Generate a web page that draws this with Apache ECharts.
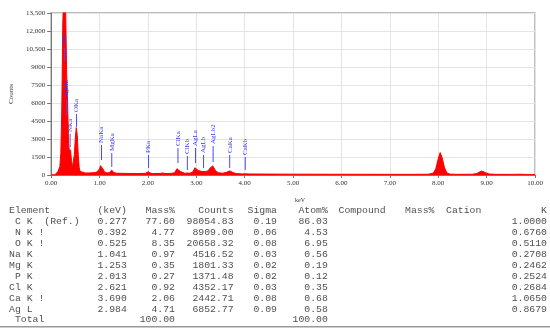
<!DOCTYPE html>
<html>
<head>
<meta charset="utf-8">
<script src="https://cdn.jsdelivr.net/npm/echarts@6/dist/echarts.min.js"></script>
<style>html,body{margin:0;padding:0;background:#fff}#c{width:550px;height:331px}</style>
</head>
<body>
<div id="c"></div>
<script>
// ---- spectrum (keV, counts) ----
var specKeV = [0, 0.04, 0.08, 0.10, 0.12, 0.14, 0.16, 0.18, 0.20, 0.22, 0.24, 0.26, 0.28, 0.30, 0.32, 0.34, 0.36, 0.38, 0.40, 0.42, 0.44, 0.46, 0.48, 0.50, 0.52, 0.54, 0.56, 0.58, 0.60, 0.64, 0.70, 0.80, 0.90, 0.95, 0.98, 1.00, 1.02, 1.04, 1.06, 1.08, 1.10, 1.15, 1.20, 1.23, 1.25, 1.27, 1.30, 1.35, 1.45, 1.60, 1.80, 1.95, 1.99, 2.01, 2.03, 2.06, 2.12, 2.25, 2.30, 2.35, 2.45, 2.55, 2.58, 2.60, 2.62, 2.64, 2.67, 2.70, 2.76, 2.81, 2.86, 2.92, 2.95, 2.97, 2.99, 3.01, 3.04, 3.08, 3.12, 3.15, 3.19, 3.24, 3.28, 3.31, 3.34, 3.37, 3.40, 3.45, 3.55, 3.62, 3.66, 3.69, 3.72, 3.76, 3.82, 3.95, 4.01, 4.10, 4.50, 5.00, 5.50, 6.00, 6.50, 7.00, 7.50, 7.80, 7.90, 7.95, 8.00, 8.04, 8.08, 8.13, 8.18, 8.25, 8.40, 8.70, 8.80, 8.85, 8.90, 8.94, 8.99, 9.05, 9.20, 9.50, 9.70, 9.80, 10.00];
var specCounts = [0, 0, 20, 80, 180, 300, 450, 700, 1800, 5500, 12500, 15500, 15000, 13800, 8500, 6000, 2600, 1900, 2100, 1200, 650, 800, 1700, 3100, 3950, 3300, 1700, 600, 300, 200, 170, 170, 200, 260, 380, 520, 780, 880, 760, 450, 260, 180, 190, 320, 400, 340, 200, 150, 140, 130, 120, 140, 220, 270, 230, 140, 120, 130, 170, 130, 120, 180, 330, 520, 600, 520, 300, 180, 140, 170, 150, 220, 420, 600, 660, 580, 380, 270, 290, 330, 290, 340, 560, 720, 760, 600, 350, 190, 150, 220, 300, 340, 310, 200, 120, 90, 100, 85, 75, 70, 65, 60, 58, 55, 55, 65, 160, 520, 1350, 1870, 1450, 600, 170, 70, 55, 60, 120, 240, 330, 300, 170, 80, 55, 50, 65, 50, 45];

// ---- peak markers ----
var markerNames = ["CKa", "AgMz", "NKa", "OKa", "NaKa", "MgKa", "PKa", "ClKa", "ClKb", "AgLa", "AgLb", "AgLb2", "CaKa", "CaKb"];
var markerKeV   = [0.277, 0.320, 0.392, 0.525, 1.041, 1.253, 2.013, 2.621, 2.815, 2.984, 3.150, 3.347, 3.690, 4.012];
var markerLow   = [9500, 5000, 2330, 4000, 1250, 670, 580, 1000, 420, 1000, 580, 1080, 580, 420];
var markerHigh  = [10580, 6250, 3420, 5080, 2500, 1830, 1670, 2250, 1580, 2250, 1670, 2420, 1670, 1500];

// ---- axes ----
var yTicks = [0, 1500, 3000, 4500, 6000, 7500, 9000, 10500, 12000, 13500];
var xTicks = [0, 1, 2, 3, 4, 5, 6, 7, 8, 9, 10];

// ---- quantitative table ----
var tableHeaders = ["Element", "(keV)", "Mass%", "Counts", "Sigma", "Atom%", "Compound", "Mass%", "Cation", "K"];
var tabElements = [" C K  (Ref.)", " N K !", " O K !", "Na K", "Mg K", " P K", "Cl K", "Ca K !", "Ag L"];
var tabKeV      = [0.277, 0.392, 0.525, 1.041, 1.253, 2.013, 2.621, 3.690, 2.984];
var tabMass     = [77.60, 4.77, 8.35, 0.97, 0.35, 0.27, 0.92, 2.06, 4.71];
var tabCounts   = [98054.83, 8909.00, 20658.32, 4516.52, 1801.33, 1371.48, 4352.17, 2442.71, 6852.77];
var tabSigma    = [0.19, 0.06, 0.08, 0.03, 0.02, 0.02, 0.03, 0.08, 0.09];
var tabAtom     = [86.03, 4.53, 6.95, 0.56, 0.19, 0.12, 0.35, 0.68, 0.58];
var tabK        = [1.0000, 0.6760, 0.5110, 0.2708, 0.2462, 0.2524, 0.2684, 1.0650, 0.8679];
var totalLabel = " Total";
var totalMass = 100.00;
var totalAtom = 100.00;

var chart = echarts.init(document.getElementById('c'), null, {renderer: 'canvas'});

var serif = '"Liberation Serif", "Times New Roman", serif';
var mono = '"Liberation Mono", "Courier New", monospace';

// table graphics
var tFont = '9.8px ' + mono;
var tColor = '#505050';
var rowY0 = 210.8, rowDy = 10.9;
// column layout: [x, align]
var colLayout = [[9, 'left'], [126.8, 'right'], [175, 'right'], [233.6, 'right'], [277, 'right'], [327.8, 'right'], [338.5, 'left'], [405, 'left'], [446, 'left'], [547, 'right']];
var graphics = [];
function addText(str, x, y, align) {
  graphics.push({type: 'text', x: x, y: y, silent: true,
    style: {text: str, font: tFont, fill: tColor, align: align, verticalAlign: 'middle'}});
}
tableHeaders.forEach(function (h, j) { addText(h, colLayout[j][0], rowY0, colLayout[j][1]); });
var colValues = [
  tabElements,
  tabKeV.map(function (v) { return v.toFixed(3); }),
  tabMass.map(function (v) { return v.toFixed(2); }),
  tabCounts.map(function (v) { return v.toFixed(2); }),
  tabSigma.map(function (v) { return v.toFixed(2); }),
  tabAtom.map(function (v) { return v.toFixed(2); })
];
for (var i = 0; i < tabElements.length; i++) {
  var y = rowY0 + rowDy * (i + 1);
  for (var j = 0; j < colValues.length; j++) addText(colValues[j][i], colLayout[j][0], y, colLayout[j][1]);
  addText(tabK[i].toFixed(4), colLayout[9][0], y, colLayout[9][1]);
}
var yTot = rowY0 + rowDy * (tabElements.length + 1);
addText(totalLabel, colLayout[0][0], yTot, 'left');
addText(totalMass.toFixed(2), colLayout[2][0], yTot, 'right');
addText(totalAtom.toFixed(2), colLayout[5][0], yTot, 'right');
graphics.push({type: 'line', silent: true, shape: {x1: 0, y1: 326.8, x2: 550, y2: 326.8}, style: {stroke: '#9a9a9a', lineWidth: 1.5}});

var specData = specKeV.map(function (e, i) { return [e, specCounts[i]]; });
var markerData = markerKeV.map(function (e, i) { return [e, markerLow[i], markerHigh[i]]; });

var option = {
  animation: false,
  backgroundColor: '#fff',
  grid: {left: 43, right: 15, top: 13, bottom: 156, show: true, borderColor: '#a8a8a8', borderWidth: 1.5, backgroundColor: 'transparent'},
  xAxis: {
    type: 'value', min: xTicks[0], max: xTicks[xTicks.length - 1], interval: 1,
    name: 'keV', nameLocation: 'middle', nameGap: 22,
    nameTextStyle: {fontFamily: serif, fontSize: 6, color: '#333', padding: [0, 0, 0, 14]},
    axisLine: {show: true, lineStyle: {color: '#777', width: 1}},
    axisTick: {show: true, length: 3, lineStyle: {color: '#777'}},
    axisLabel: {fontFamily: serif, fontSize: 7, color: '#333', margin: 5,
      formatter: function (v) { return v.toFixed(2); }},
    splitLine: {show: true, lineStyle: {color: '#e4e4e4', width: 1}}
  },
  yAxis: {
    type: 'value', min: yTicks[0], max: yTicks[yTicks.length - 1], interval: 1500,
    name: 'Counts', nameLocation: 'middle', nameGap: 30,
    nameTextStyle: {fontFamily: serif, fontSize: 7, color: '#333'},
    axisLine: {show: true, lineStyle: {color: '#777', width: 1}},
    axisTick: {show: true, length: 4, lineStyle: {color: '#777'}},
    axisLabel: {fontFamily: serif, fontSize: 7, color: '#333', margin: 6,
      formatter: function (v) { return v >= 10000 ? Math.floor(v / 1000) + ',' + String(v % 1000).padStart(3, '0') : String(v); }},
    splitLine: {show: true, lineStyle: {color: '#e4e4e4', width: 1}}
  },
  series: [
    {
      type: 'line', data: specData, showSymbol: false, symbol: 'none', clip: true,
      lineStyle: {color: '#ff0000', width: 1},
      areaStyle: {color: '#ff0000', opacity: 1},
      z: 2
    },
    {
      type: 'custom', data: markerData, z: 3, clip: false,
      encode: {x: 0, y: [1, 2]},
      renderItem: function (params, api) {
        var k = params.dataIndex;
        var p0 = api.coord([api.value(0), api.value(1)]);
        var p1 = api.coord([api.value(0), api.value(2)]);
        return {type: 'group', children: [
          {type: 'line', shape: {x1: p0[0], y1: p0[1], x2: p1[0], y2: p1[1]}, style: {stroke: '#4848ff', lineWidth: 1}},
          {type: 'text', x: p1[0], y: p1[1] - 2, rotation: Math.PI / 2,
            style: {text: markerNames[k], fill: '#3838f0', font: '7px ' + serif, align: 'left', verticalAlign: 'middle'}}
        ]};
      }
    }
  ],
  graphic: graphics
};
chart.setOption(option);
</script>
</body>
</html>
